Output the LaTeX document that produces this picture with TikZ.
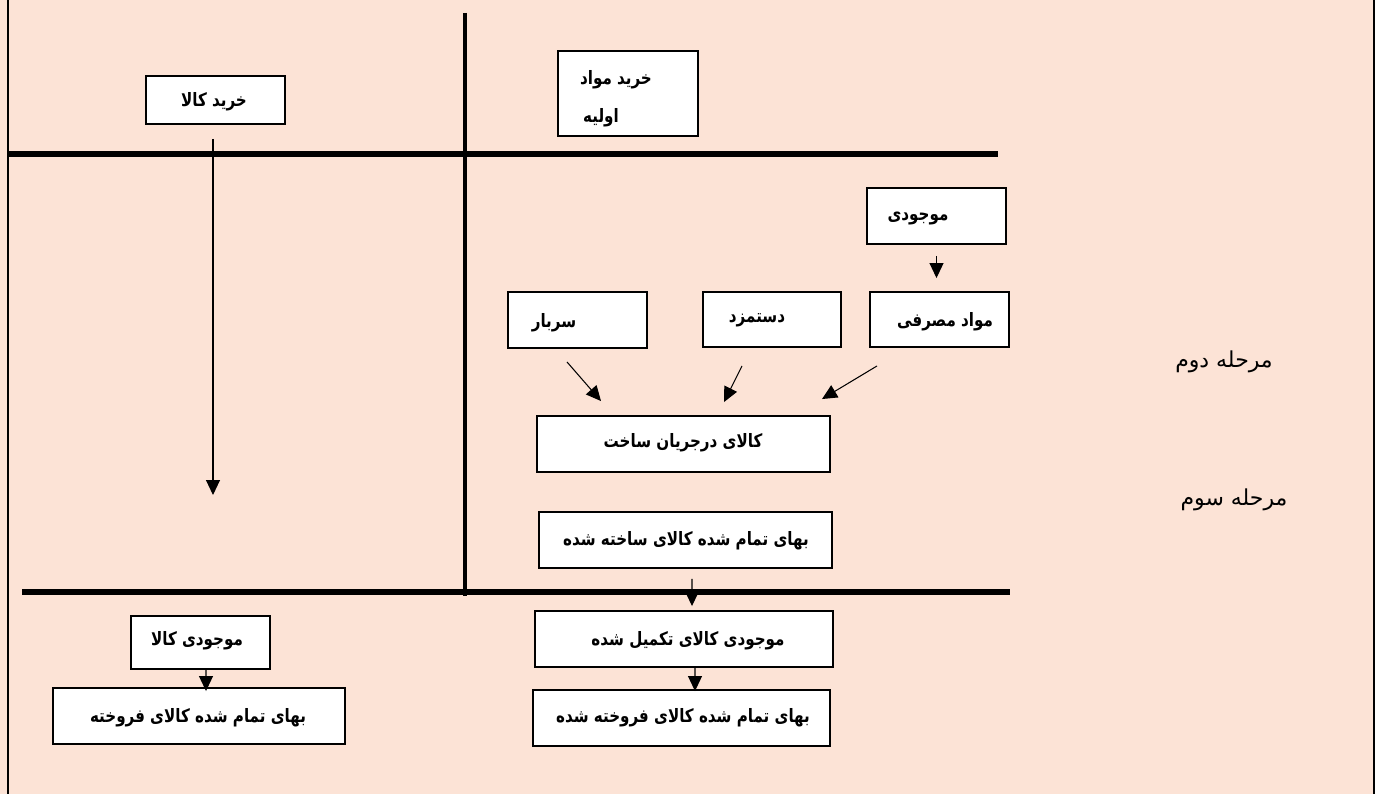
\documentclass[tikz,border=0pt]{standalone}
\usepackage{fontspec}
\newfontfamily\arabicfont[Script=Arabic]{DejaVu Sans}
\newfontfamily\arabicbox[Script=Arabic,FakeStretch=0.82]{DejaVu Sans}
\TeXXeTstate=1
\usetikzlibrary{arrows.meta,calc}
\definecolor{bgpeach}{RGB}{252,227,214}
\begin{document}
\begin{tikzpicture}[x=0.02cm,y=-0.02cm,
  box/.style={draw=black, line width=1.1pt, fill=white, inner sep=0pt},
  txt/.style={font=\arabicbox\bfseries\fontsize{10.5}{12}\selectfont, inner sep=0pt},
  lbl/.style={font=\arabicfont\fontsize{12.5}{14}\selectfont, inner sep=0pt},
  arr/.style={line width=0.6pt, -{Triangle[length=0.3cm,width=0.28cm]}},
  sepline/.style={line width=3.4pt},
  borderline/.style={line width=1.2pt}]
\fill[bgpeach] (0,0) rectangle (1375,794);
\useasboundingbox (0,0) rectangle (1375,794);
% frame and separators
\draw[borderline] (8,0) -- (8,794);
\draw[borderline] (1374,0) -- (1374,794);
\draw[line width=2.3pt] (465,13) -- (465,596);
\draw[sepline] (8,154) -- (998,154);
\draw[sepline] (22,592) -- (1010,592);
% boxes
\node[box, minimum width=2.78cm, minimum height=0.96cm] (kala) at (215.5,100) {};
\node[box, minimum width=2.8cm, minimum height=1.7cm] (mavad) at (628,93.5) {};
\node[box, minimum width=2.78cm, minimum height=1.12cm] (mojoodi) at (936.5,216) {};
\node[box, minimum width=2.78cm, minimum height=1.1cm] (masrafi) at (939.5,319.5) {};
\node[box, minimum width=2.76cm, minimum height=1.1cm] (dast) at (772,319.5) {};
\node[box, minimum width=2.78cm, minimum height=1.12cm] (sarbar) at (577.5,320) {};
\node[box, minimum width=5.86cm, minimum height=1.12cm] (wip) at (683.5,444) {};
\node[box, minimum width=5.86cm, minimum height=1.12cm] (sakhte) at (685.5,540) {};
\node[box, minimum width=5.96cm, minimum height=1.12cm] (takmil) at (684,639) {};
\node[box, minimum width=5.94cm, minimum height=1.12cm] (forookht) at (681.5,718) {};
\node[box, minimum width=2.78cm, minimum height=1.06cm] (mkala) at (200.5,642.5) {};
\node[box, minimum width=5.84cm, minimum height=1.12cm] (lforookht) at (199,716) {};
% texts
\node[txt] (t1) at (214,102) {\beginR خرید کالا\endR};
\node[txt] (t2) at (616,80) {\beginR خرید مواد\endR};
\node[txt] (t3) at (601,118) {\beginR اولیه\endR};
\node[txt] (t4) at (918,218) {\beginR موجودی\endR};
\node[txt] (t5) at (945,322) {\beginR مواد مصرفی\endR};
\node[txt] (t6) at (757,320) {\beginR دستمزد\endR};
\node[txt] (t7) at (554,323) {\beginR سربار\endR};
\node[txt] (t8) at (683,443) {\beginR کالای درجریان ساخت\endR};
\node[txt] (t9) at (686,541) {\beginR بهای تمام شده کالای ساخته شده\endR};
\node[txt] (t10) at (688,641) {\beginR موجودی کالای تکمیل شده\endR};
\node[txt] (t11) at (683,718) {\beginR بهای تمام شده کالای فروخته شده\endR};
\node[txt] (t12) at (197,641) {\beginR موجودی کالا\endR};
\node[txt] (t13) at (198,718) {\beginR بهای تمام شده کالای فروخته\endR};
\node[lbl] (l1) at (1224,362) {\beginR مرحله دوم\endR};
\node[lbl] (l2) at (1234,500) {\beginR مرحله سوم\endR};
% connectors
\coordinate (longend) at (213,495);
\draw[arr, shorten <=0.28cm] (kala.south -| longend) -- (longend);
\draw[arr, shorten <=0.22cm, shorten >=0.26cm] (mojoodi.south) -- (mojoodi.south |- masrafi.north);
\draw[arr] ($(sarbar.south)+(-10.5,13)$) -- ($(wip.north)+(-82.5,-14)$);
\draw[arr] ($(dast.south)+(-30,18)$) -- ($(wip.north)+(40.5,-13)$);
\draw[arr] ($(masrafi.south)+(-62.5,18)$) -- ($(wip.north)+(138.5,-16)$);
\draw[arr] ($(sakhte.south)+(6.5,10)$) -- ($(takmil.north)+(8,-4)$);
\draw[arr] ($(takmil.south)+(11,0)$) -- ($(forookht.north)+(13.5,2)$);
\draw[arr] ($(mkala.south)+(5.5,0)$) -- ($(lforookht.north)+(7,4)$);
\end{tikzpicture}
\end{document}
